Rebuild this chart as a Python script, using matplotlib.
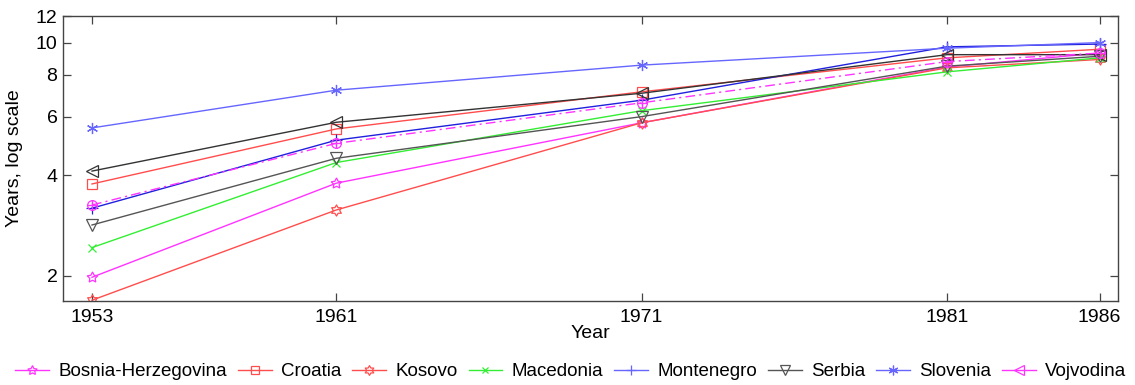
import numpy as np
import matplotlib
matplotlib.use("Agg")
import matplotlib.pyplot as plt
from matplotlib.path import Path
from matplotlib.lines import Line2D
from matplotlib.ticker import FixedLocator, FixedFormatter, NullLocator

plt.rcParams['font.family'] = ['Liberation Sans', 'DejaVu Sans']

years = [1953, 1961, 1971, 1981, 1986]

bosnia = [1.98, 3.79, 5.75, 8.45, 9.3]
croatia = [3.77, 5.51, 7.12, 9.0, 9.55]
kosovo = [1.69, 3.15, 5.75, 8.4, 8.9]
macedonia = [2.43, 4.37, 6.25, 8.17, 9.0]
montenegro = [3.19, 5.10, 6.72, 9.71, 9.9]
serbia = [2.84, 4.50, 6.0, 8.5, 9.1]
slovenia = [5.55, 7.2, 8.56, 9.62, 10.0]
vojvodina = [4.12, 5.77, 7.05, 9.2, 9.2]
yugoslavia = [3.26, 4.99, 6.60, 8.77, 9.3]

# six pointed star and circle-with-plus markers
ang = np.arange(12) * np.pi / 6 + np.pi / 2
rad = np.where(np.arange(12) % 2 == 0, 1.0, 0.58)
hexagram = Path(np.c_[rad * np.cos(ang), rad * np.sin(ang)].tolist() + [[0, 1]],
                [Path.MOVETO] + [Path.LINETO] * 11 + [Path.CLOSEPOLY])
circ = Path.unit_circle()
plus = Path([[-1, 0], [1, 0], [0, -1], [0, 1]],
            [Path.MOVETO, Path.LINETO, Path.MOVETO, Path.LINETO])
oplus = Path.make_compound_path(circ, plus)

series = [
    ("Bosnia-Herzegovina", bosnia, '#ff33ff', (5, 1, 0), '-', 8),
    ("Croatia", croatia, '#ff4d4d', 's', '-', 6.5),
    ("Kosovo", kosovo, '#ff4d4d', hexagram, '-', 8),
    ("Macedonia", macedonia, '#33ee33', 'x', '-', 6),
    ("Montenegro", montenegro, '#2020dd', '+', '-', 8),
    ("Serbia", serbia, '#555555', 'v', '-', 8),
    ("Slovenia", slovenia, '#6666ff', (6, 2, 0), '-', 8),
    ("Vojvodina", vojvodina, '#333333', '<', '-', 8),
    ("Yugoslavia", yugoslavia, '#ff33ff', oplus, (0, (7, 3, 1.5, 3)), 7),
]

fig = plt.figure(figsize=(11.35, 3.85), dpi=100)
ax = fig.add_axes([0.0555, 0.218, 0.9295, 0.740])

for name, vals, col, mk, ls, ms in series:
    ax.plot(years, vals, color=col, marker=mk, linestyle=ls, linewidth=1.0,
            markersize=ms, markerfacecolor='none', markeredgecolor=col,
            markeredgewidth=0.9)

ax.set_yscale('log')
ax.set_ylim(1.68, 12)
ax.set_xlim(1952.05, 1986.6)
ax.yaxis.set_major_locator(FixedLocator([2, 4, 6, 8, 10, 12]))
ax.yaxis.set_major_formatter(FixedFormatter(['2', '4', '6', '8', '10', '12']))
ax.yaxis.set_minor_locator(NullLocator())
ax.set_xticks(years)
ax.set_xticklabels([str(y) for y in years])

ax.tick_params(direction='in', length=6, width=0.9, color='#444444',
               labelsize=14, top=True, right=True, pad=4)
ax.tick_params(axis='x', pad=6)
for s in ax.spines.values():
    s.set_color('#444444')
    s.set_linewidth(1.0)

ax.set_xlabel('Year', fontsize=14, labelpad=-1)
ax.set_ylabel('Years, log scale', fontsize=14, labelpad=9)

legend_colors = {"Vojvodina": '#ff33ff', "Montenegro": '#6666ff'}
handles = []
for name, vals, col, mk, ls, ms in series[:8]:
    c = legend_colors.get(name, col)
    handles.append(Line2D([], [], color=c, marker=mk, linestyle='-', linewidth=1.0,
                          markersize=ms - 1, markerfacecolor='none',
                          markeredgecolor=c, markeredgewidth=0.9, label=name))
fig.legend(handles=handles, loc='center', bbox_to_anchor=(0.503, 0.034), ncol=8,
           frameon=False, fontsize=13.5, handlelength=1.8, handletextpad=0.5,
           columnspacing=0.58, borderpad=0)

fig.savefig('out.png', dpi=100)
